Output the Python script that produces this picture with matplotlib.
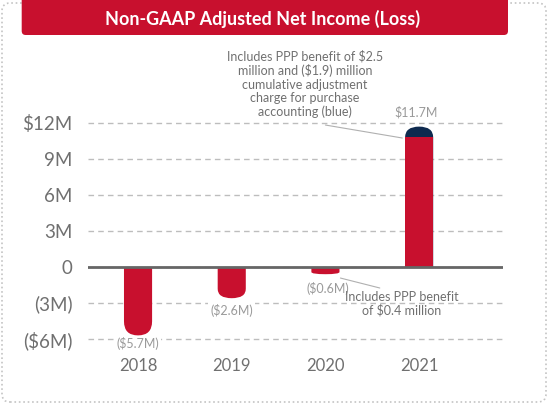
"""Non-GAAP adjusted net income bar chart with rounded bar ends."""

import matplotlib
import matplotlib.pyplot as plt
from matplotlib.patches import BoxStyle, FancyBboxPatch, Rectangle

matplotlib.use("Agg")

years = ["2018", "2019", "2020", "2021"]
net_income = [-5.7, -2.6, -0.6, 11.7]  # $M
adjustment_cap = [0.0, 0.0, 0.0, 0.9]  # blue top of the 2021 bar, $M
value_labels = ["($5.7M)", "($2.6M)", "($0.6M)", "$11.7M"]
ytick_values = [-6, -3, 0, 3, 6, 9, 12]
ytick_labels = ["($6M)", "(3M)", "0", "3M", "6M", "9M", "$12M"]
note_2021 = ("Includes PPP benefit of $2.5\nmillion and ($1.9) million\n"
             "cumulative adjustment\ncharge for purchase\naccounting (blue)")
note_2020 = "Includes PPP benefit\nof $0.4 million"

W, H = 548, 405
RED = "#C8102E"
NAVY = "#0E2A4F"
GRAY_TXT = "#707070"
LIGHT_TXT = "#9a9a9a"
FONT = ["Lato", "DejaVu Sans"]

plt.rcParams["font.family"] = FONT

fig = plt.figure(figsize=(W / 100, H / 100), dpi=100)
ax = fig.add_axes([88 / W, (H - 351) / H, 415 / W, 252 / H])
xlim = (-0.534, 3.895)
ylim = (-7, 14)
ax.set_xlim(*xlim)
ax.set_ylim(*ylim)
ppx = 415 / (xlim[1] - xlim[0])  # pixels per x unit
ppy = 252 / (ylim[1] - ylim[0])  # pixels per $M

bar_w = 0.30


def rounded_end_bar(x, value, color, ry, zorder=2):
    """Bar from 0 to value whose far end is rounded (y radius ry in $M)."""
    rx = bar_w / 2
    ext = 3 * ry + 1
    if value < 0:
        y0, h = value, -value + ext
        clip = Rectangle((-10, -100), 20, 100, transform=ax.transData)
    else:
        y0, h = -ext, value + ext
        clip = Rectangle((-10, 0), 20, 100, transform=ax.transData)
    patch = FancyBboxPatch((x - rx, y0), bar_w, h,
                           boxstyle=BoxStyle.Round(pad=0, rounding_size=rx),
                           mutation_aspect=ry / rx, fc=color, ec="none",
                           zorder=zorder)
    ax.add_patch(patch)
    patch.set_clip_path(clip)


for i, v in enumerate(net_income):
    cap = adjustment_cap[i]
    if v < 0:
        r_px = min(bar_w * ppx / 2, abs(v) * ppy * 0.3)
        rounded_end_bar(i, v, RED, r_px / ppy)
    else:
        rounded_end_bar(i, v, NAVY, cap)
        ax.bar(i, v - cap, width=bar_w, color=RED, zorder=2.5)

# value labels (offsets in points from the bar end)
label_offsets = [(0, -5.5), (0, -8.5), (2, -10), (-2, 10)]
for i, (v, lab) in enumerate(zip(net_income, value_labels)):
    ax.annotate(lab, (i, v), xytext=label_offsets[i], textcoords="offset points",
                ha="center", va="center", fontsize=9, color=LIGHT_TXT,
                zorder=1.5, annotation_clip=False,
                bbox=dict(boxstyle="square,pad=0.15", fc="white", ec="none"))

# grid and zero line
ax.set_yticks(ytick_values, ytick_labels)
ax.set_xticks(range(len(years)), years)
ax.yaxis.grid(True, color="#bdbdbd", linestyle=(0, (4, 3)), linewidth=1, zorder=0)
ax.set_axisbelow(True)
ax.axhline(0, color="#666666", linewidth=2, zorder=3)
for s in ax.spines.values():
    s.set_visible(False)
ax.tick_params(axis="y", length=0, pad=11, labelsize=13.5, labelcolor=GRAY_TXT)
ax.tick_params(axis="x", length=0, pad=5, labelsize=12, labelcolor=GRAY_TXT)

# notes
ax.text(1.78, 15.25, note_2021, ha="center", va="center", fontsize=9,
        color=GRAY_TXT, linespacing=1.15)
ax.annotate("", xy=(2.82, 10.75), xytext=(2.0, 11.83),
            arrowprops=dict(arrowstyle="-", color="#b0b0b0", lw=0.8,
                            shrinkA=0, shrinkB=0))
ax.text(2.81, -3.08, note_2020, ha="center", va="center", fontsize=9,
        color=GRAY_TXT, linespacing=1.1, zorder=5)
ax.annotate("", xy=(2.58, -1.75), xytext=(2.16, -0.92),
            arrowprops=dict(arrowstyle="-", color="#b0b0b0", lw=0.8,
                            shrinkA=0, shrinkB=0))

# dotted frame and title banner
frame = FancyBboxPatch((2 / W, 3 / H), 544 / W, 399 / H,
                       boxstyle=BoxStyle.Round(pad=0, rounding_size=8 / W),
                       mutation_aspect=W / H, transform=fig.transFigure,
                       fill=False, ec="#c4c4c4", lw=1.2, ls=":")
fig.add_artist(frame)
banner = FancyBboxPatch((21.7 / W, (H - 35) / H), 486.3 / W, 41 / H,
                        boxstyle=BoxStyle.Round(pad=0, rounding_size=4 / W),
                        mutation_aspect=W / H, transform=fig.transFigure,
                        fc=RED, ec="none")
fig.add_artist(banner)
fig.text(263 / W, 1 - 18.5 / H, "Non-GAAP Adjusted Net Income (Loss)",
         ha="center", va="center", color="white", fontsize=13,
         fontweight="bold")

fig.savefig("out.png", dpi=100)
plt.close(fig)
